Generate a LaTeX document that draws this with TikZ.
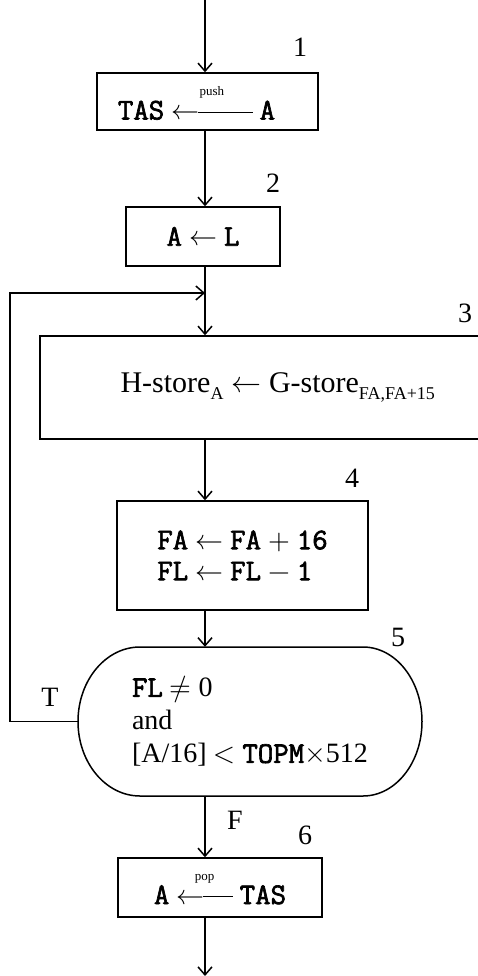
\documentclass[tikz,border=0pt]{standalone}
\usepackage{amsmath}
\usepackage{unicode-math}
\setmainfont{Liberation Serif}
\setmonofont{Latin Modern Mono}[Scale=1.07, FakeBold=2.2]
\usetikzlibrary{arrows.meta}
\newcommand\mono[1]{\texttt{#1}}
\newcommand\larr[2]{\mathrel{\overset{\text{\raisebox{4pt}{\fontsize{13}{13}\selectfont #1}}}{\leftarrow\mkern-6mu\rule[0.243em]{#2}{0.04em}}}}
\newcommand\sub[1]{\ensuremath{_{\text{\fontsize{18}{18}\selectfont #1}}}}
\begin{document}
\begin{tikzpicture}[x=1pt,y=-1pt,
  box/.style={draw, line width=1.5pt, inner sep=0pt, font=\fontsize{28}{31}\selectfont},
  num/.style={inner sep=0pt, font=\fontsize{28}{28}\selectfont},
  arr/.style={line width=1.5pt, -{Straight Barb[length=8pt,width=14pt]}}]
\useasboundingbox (0,0) rectangle (477,976);
% boxes
\node[box, minimum width=221pt, minimum height=57pt] (b1) at (207.5,101.5)
  {\mono{TAS} $\larr{push}{55pt}$ \mono{A}\kern22pt};
\node[box, minimum width=154pt, minimum height=59pt] (b2) at (203,236.5)
  {\mono{A} $\leftarrow$ \mono{L}};
\node[box, minimum width=476pt, minimum height=103pt, font=\fontsize{30}{33}\selectfont] (b3) at (278,387.5)
  {H-store\sub{A} $\leftarrow$ G-store\sub{FA,FA+15}};
\node[box, minimum width=251pt, minimum height=109pt, align=left] (b4) at (242.5,555.5)
  {\mono{FA} $\leftarrow$ \mono{FA} $+$ \mono{16}\\ \mono{FL} $\leftarrow$ \mono{FL} $-$ \mono{1}};
\node[inner sep=0pt, minimum width=344pt, minimum height=149pt, align=left,
  font=\fontsize{28}{33}\selectfont] (s5) at (250,721.5)
  {\mono{FL} $\neq$ 0\\and\\{}[A/16] $<$ \mono{TOPM}$\times$512};
\draw[line width=1.5pt] (140,647) -- (363,647)
  arc[start angle=-90, end angle=90, x radius=59, y radius=74.5]
  -- (140,796)
  arc[start angle=90, end angle=270, x radius=62, y radius=74.5] -- cycle;
\node[box, minimum width=204pt, minimum height=59pt] (b6) at (220,887.5)
  {\mono{A} $\larr{pop}{30pt}$ \mono{TAS}};
% numbers and branch labels
\node[num] (n1) at (300,47) {1};
\node[num] (n2) at (273,183) {2};
\node[num] (n3) at (465,313) {3};
\node[num] (n4) at (352,478) {4};
\node[num] (n5) at (398,637) {5};
\node[num] (n6) at (305,835) {6};
\node[num] (lF) at (235,820) {F};
\node[num] (lT) at (50,697) {T};
% connectors
\coordinate (top) at (205,0);
\coordinate (bot) at (205,976);
\coordinate (m) at (205,293);
\coordinate (lp) at (10,725);
\draw[arr] (top) -- (top |- b1.north);
\draw[arr] (top |- b1.south) -- (top |- b2.north);
\draw[arr] (top |- b2.south) -- (m) -- (top |- b3.north);
\draw[arr] (s5.west) -- (lp |- s5.west) |- (m);
\draw[arr] (top |- b3.south) -- (top |- b4.north);
\draw[arr] (top |- b4.south) -- (top |- s5.north);
\draw[arr] (top |- s5.south) -- (top |- b6.north);
\draw[arr] (top |- b6.south) -- (bot);
\end{tikzpicture}
\end{document}
